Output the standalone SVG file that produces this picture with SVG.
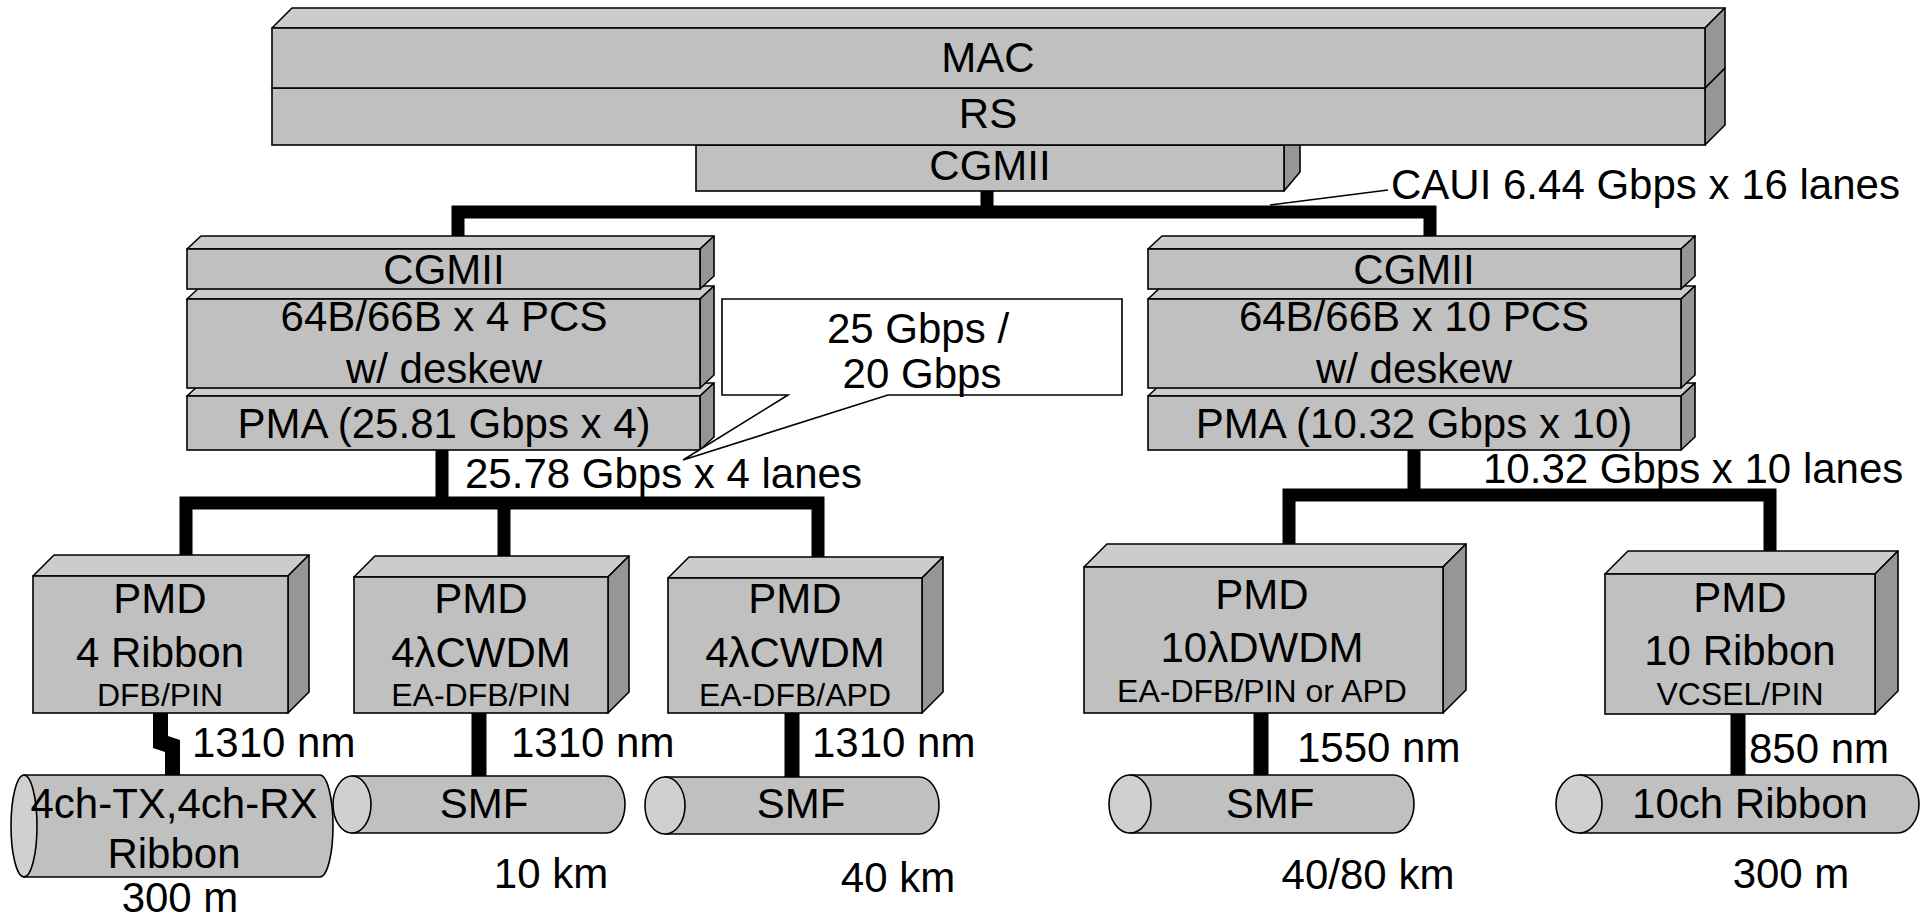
<svg xmlns="http://www.w3.org/2000/svg" width="1932" height="923" viewBox="0 0 1932 923">
<style>
.fr{fill:#C0C0C0;stroke:#000;stroke-width:1.6}
.tp{fill:#CCCCCC;stroke:#000;stroke-width:1.6;stroke-linejoin:round}
.sd{fill:#969696;stroke:#000;stroke-width:1.6;stroke-linejoin:round}
.cap{fill:#D0D0D0;stroke:#000;stroke-width:1.6}
.t{font-family:"Liberation Sans",Arial,sans-serif;font-size:42px;fill:#000}
.s{font-family:"Liberation Sans",Arial,sans-serif;font-size:32px;fill:#000}
.m{text-anchor:middle}
.bus{fill:none;stroke:#000;stroke-width:13;stroke-linejoin:miter;stroke-linecap:butt}
.lk{fill:none;stroke:#000;stroke-width:15;stroke-linecap:butt}
</style>
<rect width="1932" height="923" fill="#fff"/>

<g id="connectors">
  <path class="bus" d="M458,240 V212 H1430 V240 M987,190 V212"/>
  <path class="bus" d="M186,558 V503 H818 V558 M442,449 V503 M504,503 V558"/>
  <path class="bus" d="M1289,546 V495 H1770 V553 M1414,449 V495"/>
  <polygon points="153,712 168,712 168,736 180,740 180,776 165,776 165,752 153,748" fill="#000"/>
  <path class="lk" d="M479,712 V777 M792,712 V778 M1261,712 V776 M1738,713 V776"/>
  <line x1="1270" y1="205" x2="1388" y2="190" stroke="#000" stroke-width="1.6"/>
</g>

<g id="cgmii-top">
  <polygon class="sd" points="1284,145 1300,126 1300,172 1284,191"/>
  <rect class="fr" x="696" y="145" width="588" height="46"/>
  <text class="t m" x="990" y="180">CGMII</text>
</g>
<g id="rs">
  <polygon class="sd" points="1705,88 1725,68 1725,125 1705,145"/>
  <rect class="fr" x="272" y="88" width="1433" height="57"/>
  <text class="t m" x="988" y="128">RS</text>
</g>
<g id="mac">
  <polygon class="tp" points="272,28 292,8 1725,8 1705,28"/>
  <polygon class="sd" points="1705,28 1725,8 1725,68 1705,88"/>
  <rect class="fr" x="272" y="28" width="1433" height="60"/>
  <text class="t m" x="988" y="72">MAC</text>
</g>
<text class="t" x="1391" y="199">CAUI 6.44 Gbps x 16 lanes</text>

<g id="pma-left">
  <polygon class="tp" points="187,396 201,383 714,383 700,396"/>
  <polygon class="sd" points="700,396 714,383 714,437 700,450"/>
  <rect class="fr" x="187" y="396" width="513" height="54"/>
  <text class="t m" x="444" y="438">PMA (25.81 Gbps x 4)</text>
</g>
<g id="pcs-left">
  <polygon class="tp" points="187,299 201,286 714,286 700,299"/>
  <polygon class="sd" points="700,299 714,286 714,375 700,388"/>
  <rect class="fr" x="187" y="299" width="513" height="89"/>
  <text class="t m" x="444" y="331">64B/66B x 4 PCS</text>
  <text class="t m" x="444" y="383">w/ deskew</text>
</g>
<g id="cgmii-left">
  <polygon class="tp" points="187,249 201,236 714,236 700,249"/>
  <polygon class="sd" points="700,249 714,236 714,276 700,289"/>
  <rect class="fr" x="187" y="249" width="513" height="40"/>
  <text class="t m" x="444" y="284">CGMII</text>
</g>

<g id="pma-right">
  <polygon class="tp" points="1148,396 1162,383 1695,383 1681,396"/>
  <polygon class="sd" points="1681,396 1695,383 1695,437 1681,450"/>
  <rect class="fr" x="1148" y="396" width="533" height="54"/>
  <text class="t m" x="1414" y="438">PMA (10.32 Gbps x 10)</text>
</g>
<g id="pcs-right">
  <polygon class="tp" points="1148,299 1162,286 1695,286 1681,299"/>
  <polygon class="sd" points="1681,299 1695,286 1695,375 1681,388"/>
  <rect class="fr" x="1148" y="299" width="533" height="89"/>
  <text class="t m" x="1414" y="331">64B/66B x 10 PCS</text>
  <text class="t m" x="1414" y="383">w/ deskew</text>
</g>
<g id="cgmii-right">
  <polygon class="tp" points="1148,249 1162,236 1695,236 1681,249"/>
  <polygon class="sd" points="1681,249 1695,236 1695,276 1681,289"/>
  <rect class="fr" x="1148" y="249" width="533" height="40"/>
  <text class="t m" x="1414" y="284">CGMII</text>
</g>

<g id="callout">
  <polygon points="722,299 1122,299 1122,395 888,395 683,460 788,395 722,395" fill="#fff" stroke="#000" stroke-width="1.6" stroke-linejoin="miter"/>
  <text class="t m" x="918" y="343">25 Gbps /</text>
  <text class="t m" x="922" y="388">20 Gbps</text>
</g>
<text class="t" x="465" y="488">25.78 Gbps x 4 lanes</text>
<text class="t" x="1483" y="483">10.32 Gbps x 10 lanes</text>

<g id="pmd1">
  <polygon class="tp" points="33,576 54,555 309,555 288,576"/>
  <polygon class="sd" points="288,576 309,555 309,692 288,713"/>
  <rect class="fr" x="33" y="576" width="255" height="137"/>
  <text class="t m" x="160" y="613">PMD</text>
  <text class="t m" x="160" y="667">4 Ribbon</text>
  <text class="s m" x="160" y="706">DFB/PIN</text>
</g>
<g id="pmd2">
  <polygon class="tp" points="354,577 375,556 629,556 608,577"/>
  <polygon class="sd" points="608,577 629,556 629,692 608,713"/>
  <rect class="fr" x="354" y="577" width="254" height="136"/>
  <text class="t m" x="481" y="613">PMD</text>
  <text class="t m" x="481" y="667">4λCWDM</text>
  <text class="s m" x="481" y="706">EA-DFB/PIN</text>
</g>
<g id="pmd3">
  <polygon class="tp" points="668,578 689,557 943,557 922,578"/>
  <polygon class="sd" points="922,578 943,557 943,692 922,713"/>
  <rect class="fr" x="668" y="578" width="254" height="135"/>
  <text class="t m" x="795" y="613">PMD</text>
  <text class="t m" x="795" y="667">4λCWDM</text>
  <text class="s m" x="795" y="706">EA-DFB/APD</text>
</g>
<g id="pmd4">
  <polygon class="tp" points="1084,567 1107,544 1466,544 1443,567"/>
  <polygon class="sd" points="1443,567 1466,544 1466,690 1443,713"/>
  <rect class="fr" x="1084" y="567" width="359" height="146"/>
  <text class="t m" x="1262" y="609">PMD</text>
  <text class="t m" x="1262" y="662">10λDWDM</text>
  <text class="s m" x="1262" y="702">EA-DFB/PIN or APD</text>
</g>
<g id="pmd5">
  <polygon class="tp" points="1605,574 1628,551 1898,551 1875,574"/>
  <polygon class="sd" points="1875,574 1898,551 1898,691 1875,714"/>
  <rect class="fr" x="1605" y="574" width="270" height="140"/>
  <text class="t m" x="1740" y="612">PMD</text>
  <text class="t m" x="1740" y="665">10 Ribbon</text>
  <text class="s m" x="1740" y="705">VCSEL/PIN</text>
</g>

<text class="t" x="192" y="757">1310 nm</text>
<text class="t" x="511" y="757">1310 nm</text>
<text class="t" x="812" y="757">1310 nm</text>
<text class="t" x="1297" y="762">1550 nm</text>
<text class="t" x="1749" y="763">850 nm</text>

<g id="fiber1">
  <path class="fr" d="M24,775 H320 A13,51 0 0 1 320,877 H24 Z"/>
  <ellipse class="cap" cx="24" cy="826" rx="13" ry="51"/>
  <text class="t m" x="174" y="818">4ch-TX,4ch-RX</text>
  <text class="t m" x="174" y="868">Ribbon</text>
</g>
<g id="fiber2">
  <path class="fr" d="M352,776 H606 A19,28.5 0 0 1 606,833 H352 Z"/>
  <ellipse class="cap" cx="352" cy="804.5" rx="19" ry="28.5"/>
  <text class="t m" x="484" y="818">SMF</text>
</g>
<g id="fiber3">
  <path class="fr" d="M665,777 H919 A20,28.5 0 0 1 919,834 H665 Z"/>
  <ellipse class="cap" cx="665" cy="805.5" rx="20" ry="28.5"/>
  <text class="t m" x="801" y="818">SMF</text>
</g>
<g id="fiber4">
  <path class="fr" d="M1130,775 H1393 A21,29 0 0 1 1393,833 H1130 Z"/>
  <ellipse class="cap" cx="1130" cy="804" rx="21" ry="29"/>
  <text class="t m" x="1270" y="818">SMF</text>
</g>
<g id="fiber5">
  <path class="fr" d="M1579,775 H1897 A22,29 0 0 1 1897,833 H1579 Z"/>
  <ellipse class="cap" cx="1579" cy="804" rx="23" ry="29"/>
  <text class="t m" x="1750" y="818">10ch Ribbon</text>
</g>

<text class="t m" x="180" y="912">300 m</text>
<text class="t m" x="551" y="888">10 km</text>
<text class="t m" x="898" y="892">40 km</text>
<text class="t m" x="1368" y="889">40/80 km</text>
<text class="t m" x="1791" y="888">300 m</text>
</svg>
